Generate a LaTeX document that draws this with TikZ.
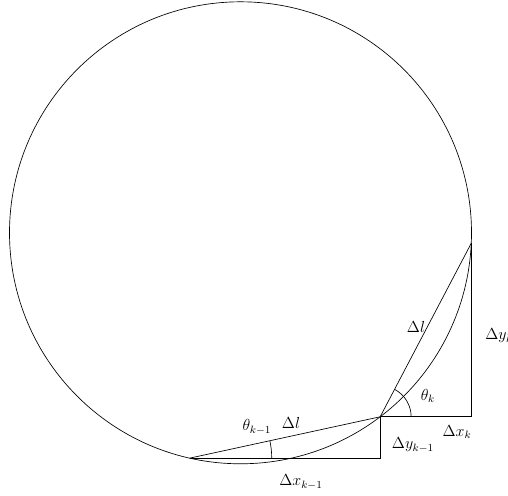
\documentclass[tikz,border=0pt]{standalone}
\usetikzlibrary{calc}
\begin{document}
\begin{tikzpicture}[x=0.75pt,y=0.75pt,line width=0.5pt,lbl/.style={inner sep=0pt,font=\fontsize{11.5}{14}\selectfont}]
\useasboundingbox (0,0) rectangle (508,496);
\coordinate (C) at (240.5,263.2);
\def\R{231}
\draw (C) circle[radius=\R];
\coordinate (P1) at ($(C)+(257.3:\R)$);
\coordinate (P2) at ($(C)+(-52.8:\R)$);
\coordinate (P3) at ($(C)+(-2.6:\R)$);
\coordinate (Q1) at (P2 |- P1);
\coordinate (Q2) at (P3 |- P2);
\draw (P1) -- (P2) -- (P3);
\draw (P1) -- (Q1) -- (P2);
\draw (P2) -- (Q2) -- (P3);
\draw let \p1=($(P2)-(P1)$), \n1={atan2(\y1,\x1)} in ($(P1)+(82,0)$) arc[start angle=0,end angle=\n1,radius=82];
\draw let \p1=($(P3)-(P2)$), \n1={atan2(\y1,\x1)} in ($(P2)+(31,0)$) arc[start angle=0,end angle=\n1,radius=31];
\node[lbl] (dl1) at (291,73) {$\Delta l$};
\node[lbl] (tk1) at (257,69) {$\theta_{k-1}$};
\node[lbl] (dyk1) at (413,51) {$\Delta y_{k-1}$};
\node[lbl] (dxk1) at (301,14) {$\Delta x_{k-1}$};
\node[lbl] (dxk) at (457,64) {$\Delta x_k$};
\node[lbl] (tk) at (428,100) {$\theta_k$};
\node[lbl] (dl2) at (416,169) {$\Delta l$};
\node[lbl,anchor=west] (dyk) at (485,160) {$\Delta y_k$};
\end{tikzpicture}
\end{document}
